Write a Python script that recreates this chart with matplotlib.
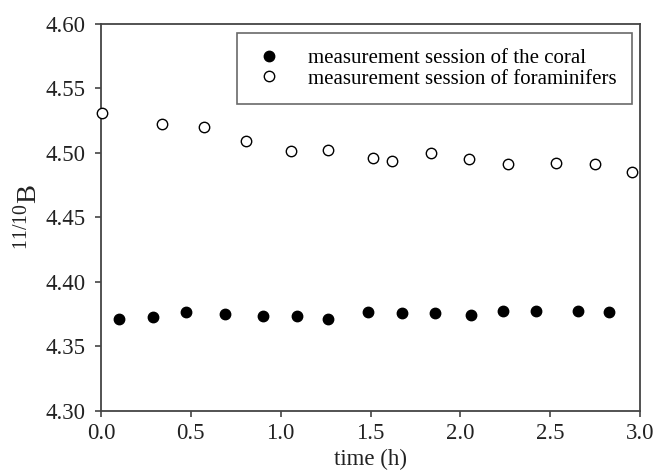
import matplotlib
matplotlib.use("Agg")
import matplotlib.pyplot as plt

plt.rcParams['font.family'] = ['Liberation Serif', 'DejaVu Serif']
plt.rcParams['mathtext.fontset'] = 'custom'
plt.rcParams['mathtext.rm'] = 'Liberation Serif'
plt.rcParams['mathtext.it'] = 'Liberation Serif:italic'

coral_t = [0.102, 0.288, 0.471, 0.690, 0.900, 1.089, 1.265, 1.488, 1.677, 1.861, 2.057, 2.235, 2.421, 2.653, 2.829]
coral_r = [4.3713, 4.3731, 4.3765, 4.3752, 4.3736, 4.3734, 4.3716, 4.3765, 4.3760, 4.3757, 4.3746, 4.3773, 4.3773, 4.3775, 4.3767]

foram_t = [0.007, 0.339, 0.575, 0.807, 1.059, 1.265, 1.515, 1.621, 1.836, 2.050, 2.265, 2.534, 2.749, 2.957]
foram_r = [4.5310, 4.5225, 4.5204, 4.5096, 4.5016, 4.5020, 4.4959, 4.4940, 4.4998, 4.4951, 4.4915, 4.4925, 4.4912, 4.4853]

xticks = [0.0, 0.5, 1.0, 1.5, 2.0, 2.5, 3.0]
yticks = [4.30, 4.35, 4.40, 4.45, 4.50, 4.55, 4.60]

fig = plt.figure(figsize=(6.59, 4.73), dpi=100)
ax = fig.add_axes([0.1533, 0.1311, 0.8179, 0.8182])

ax.plot(coral_t, coral_r, 'o', color='black', markersize=7.5, linestyle='none',
        label='measurement session of the coral', clip_on=False)
ax.plot(foram_t, foram_r, 'o', markerfacecolor='white', markeredgecolor='black',
        markeredgewidth=1.0, markersize=7.5, linestyle='none',
        label='measurement session of foraminifers', clip_on=False, zorder=3)

ax.set_xlim(0, 3.0)
ax.set_ylim(4.30, 4.60)
ax.set_xticks(xticks)
ax.set_xticklabels([f"{v:.1f}" for v in xticks])
ax.set_yticks(yticks)
ax.set_yticklabels([f"{v:.2f}" for v in yticks])

for s in ax.spines.values():
    s.set_color('#444444')
    s.set_linewidth(1.3)
ax.tick_params(direction='out', length=4, width=1.2, color='#444444',
               labelsize=16.5, labelcolor='#222222')
ax.tick_params(axis='y', pad=7)
ax.tick_params(axis='x', pad=5)

ax.set_xlabel('time (h)', fontsize=16.5, color='#222222', labelpad=3)
ax.set_ylabel(r'$^{11/10}\mathrm{B}$', fontsize=20.5, color='#222222', labelpad=2)

leg = ax.legend(loc='upper right', bbox_to_anchor=(0.985, 0.977), fontsize=15,
                frameon=True, fancybox=False, edgecolor='#444444',
                handletextpad=1.05, borderpad=0.75, labelspacing=0.05,
                handlelength=1.6, borderaxespad=0)
leg.get_frame().set_linewidth(1.2)

fig.savefig('out.png', dpi=100)
